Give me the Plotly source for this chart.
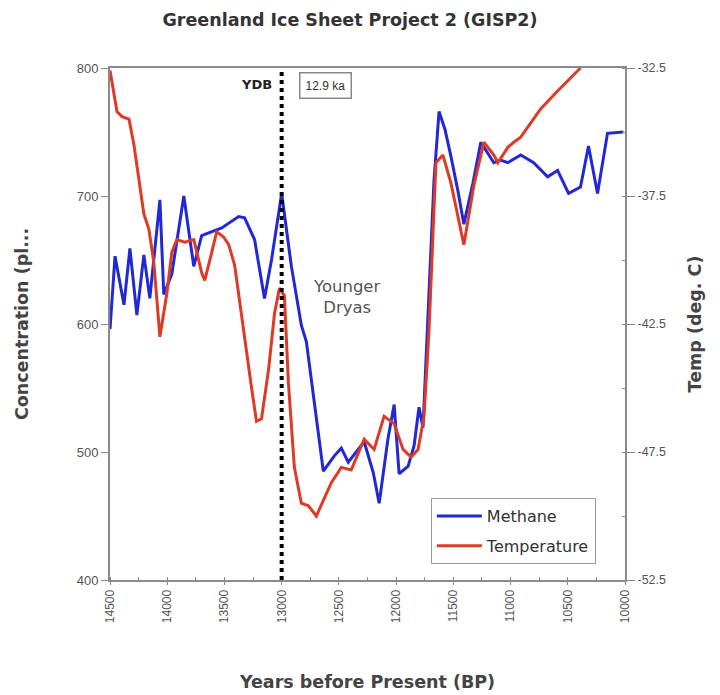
import plotly.graph_objects as go

# ---- data ----
methane_years = [14500, 14456, 14378, 14326, 14265, 14204, 14152, 14064, 14030, 13960,
                 13855, 13768, 13699, 13524, 13376, 13324, 13237, 13150, 13089, 13000,
                 12915, 12828, 12784, 12714, 12636, 12540, 12479, 12418, 12279, 12200,
                 12148, 12070, 12017, 11974, 11895, 11843, 11800, 11765, 11713, 11669,
                 11625, 11573, 11521, 11460, 11408, 11329, 11260, 11146, 11085, 11024,
                 10911, 10798, 10676, 10589, 10493, 10389, 10319, 10240, 10153, 10014]
methane_ppb = [596, 653, 615, 659, 607, 654, 620, 697, 623, 639,
               700, 645, 669, 675, 684, 683, 666, 620, 650, 702,
               645, 599, 586, 537, 485, 497, 503, 492, 508, 484,
               460, 511, 537, 483, 489, 505, 535, 519, 620, 712,
               766, 752, 731, 704, 678, 710, 742, 726, 728, 726,
               732, 726, 715, 720, 702, 707, 739, 702, 749, 750]

temp_years = [14500, 14439, 14395, 14334, 14291, 14247, 14204, 14160, 14117, 14064,
              14003, 13960, 13916, 13847, 13768, 13699, 13672, 13611, 13568, 13507,
              13463, 13411, 13324, 13263, 13220, 13176, 13115, 13063, 13019, 12976,
              12941, 12889, 12828, 12767, 12697, 12627, 12566, 12479, 12392, 12279,
              12192, 12105, 12017, 11939, 11869, 11808, 11756, 11713, 11652, 11591,
              11521, 11408, 11321, 11233, 11146, 11111, 11024, 10972, 10911, 10737,
              10589, 10389]
temp_degC = [-32.6, -34.2, -34.4, -34.5, -35.5, -36.9, -38.2, -38.8, -40.1, -43.0,
             -41.3, -39.7, -39.2, -39.3, -39.2, -40.5, -40.8, -39.7, -38.9, -39.1,
             -39.4, -40.2, -43.1, -45.0, -46.3, -46.2, -44.3, -42.1, -41.1, -41.4,
             -44.8, -48.1, -49.5, -49.6, -50.0, -49.3, -48.7, -48.1, -48.2, -47.0,
             -47.4, -46.1, -46.4, -47.4, -47.7, -47.4, -46.1, -42.8, -36.2, -35.9,
             -37.0, -39.4, -37.1, -35.4, -35.9, -36.2, -35.6, -35.4, -35.2, -34.1,
             -33.4, -32.5]

x_ticks = [14500, 14000, 13500, 13000, 12500, 12000, 11500, 11000, 10500, 10000]
left_ticks = [400, 500, 600, 700, 800]
right_ticks = [-52.5, -47.5, -42.5, -37.5, -32.5]
right_tick_text = ["-52.5", "-47.5", "-42.5", "-37.5", "-32.5"]
ydb_year = 13000

FONT = "Arial, Liberation Sans, sans-serif"
WIDE = "DejaVu Sans, Verdana, sans-serif"
GRAY = "#8a8a8a"
TXT = "#444444"

fig = go.Figure()
fig.add_trace(go.Scatter(x=methane_years, y=methane_ppb, name="Methane", mode="lines",
                         legendgroup="m", line=dict(color="#2328d6", width=3)))
fig.add_trace(go.Scatter(x=temp_years, y=temp_degC, name="Temperature", mode="lines",
                         legendgroup="t", yaxis="y2", line=dict(color="#de3a26", width=3)))

fig.add_shape(type="line", x0=ydb_year, x1=ydb_year, xref="x", y0=0, y1=1, yref="paper",
              line=dict(color="black", width=4, dash="dot"))

fig.add_annotation(x=ydb_year, xref="x", y=0.968, yref="paper", text="<b>YDB</b>",
                   showarrow=False, xanchor="right", xshift=-8, yanchor="middle",
                   font=dict(family=WIDE, size=13, color="#222222"))
fig.add_annotation(x=ydb_year, xref="x", y=0.965, yref="paper", text="12.9 ka",
                   showarrow=False, xanchor="left", xshift=17, yanchor="middle",
                   font=dict(family=FONT, size=12, color="#333333"),
                   bordercolor="#888888", borderwidth=1.5, borderpad=5, bgcolor="white")
fig.add_annotation(x=12427, xref="x", y=0.553, yref="paper", text="Younger<br>Dryas",
                   showarrow=False, xanchor="center", yanchor="middle",
                   font=dict(family=WIDE, size=16.5, color="#555555"))

fig.update_layout(
    width=720, height=695,
    margin=dict(l=100, r=103, t=60, b=123),
    paper_bgcolor="white", plot_bgcolor="white",
    title=dict(text="<b>Greenland Ice Sheet Project 2 (GISP2)</b>", x=0.475, xanchor="center",
               y=0.983, yanchor="middle", font=dict(family=WIDE, size=17.5, color="#333333")),
    font=dict(family=FONT, color=TXT),
    showlegend=True,
    legend=dict(x=0.623, y=0.16, xanchor="left", yanchor="top", bgcolor="white",
                bordercolor="#9a9a9a", borderwidth=1, itemwidth=45,
                font=dict(family=WIDE, size=16, color="#333333"), tracegroupgap=6),
    xaxis=dict(range=[14500, 10000], tickvals=x_ticks, ticktext=[str(v) for v in x_ticks],
               tickangle=-90, ticks="outside", ticklen=3, tickcolor=GRAY,
               tickfont=dict(family=FONT, size=12, color="#555555"),
               showline=True, linecolor=GRAY, linewidth=2, mirror=True,
               showgrid=False, zeroline=False,
               minor=dict(dtick=250, ticks="inside", ticklen=3, tickcolor=GRAY),
               title=dict(text="<b>Years before Present (BP)</b>", standoff=54,
                          font=dict(family=WIDE, size=17.5, color="#444444"))),
    yaxis=dict(range=[400, 800], tickvals=left_ticks, ticks="outside", ticklen=7, tickcolor=GRAY,
               tickfont=dict(family=FONT, size=13, color="#555555"),
               showline=True, linecolor=GRAY, linewidth=2, mirror=False,
               showgrid=False, zeroline=False,
               title=dict(text="<b>Concentration (pl...</b>", standoff=44,
                          font=dict(family=WIDE, size=17.5, color="#444444"))),
    yaxis2=dict(range=[-52.5, -32.5], overlaying="y", side="right", tickvals=right_ticks,
                ticktext=right_tick_text, ticks="outside", ticklen=8, tickcolor=GRAY,
                tickfont=dict(family=FONT, size=12.5, color="#555555"),
                showline=True, linecolor=GRAY, linewidth=2,
                showgrid=False, zeroline=False,
                minor=dict(dtick=2.5, ticks="inside", ticklen=3, tickcolor=GRAY),
                title=dict(text="<b>Temp (deg. C)</b>", standoff=24,
                           font=dict(family=WIDE, size=17.5, color="#444444"))),
)

fig.write_html("out.html")
